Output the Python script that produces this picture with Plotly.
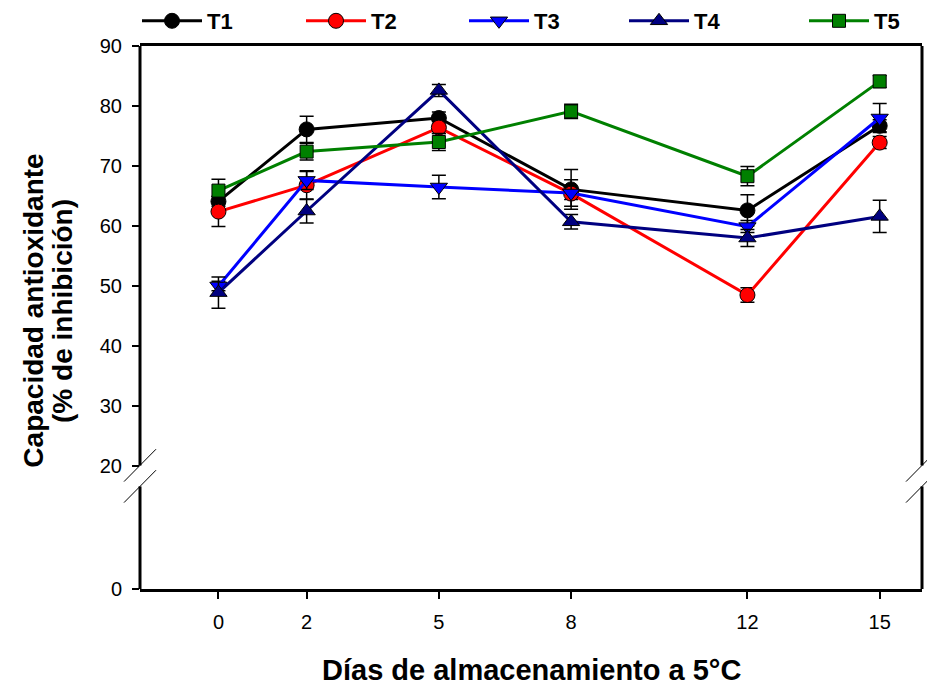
import plotly.graph_objects as go

days = [0, 2, 5, 8, 12, 15]
names = ["T1", "T2", "T3", "T4", "T5"]
t1 = [64.1, 76.1, 78.0, 66.1, 62.6, 76.7]
t2 = [62.4, 66.8, 76.4, 65.4, 48.5, 73.9]
t3 = [50.0, 67.6, 66.5, 65.5, 59.9, 78.0]
t4 = [48.9, 62.5, 82.6, 60.7, 58.0, 61.6]
t5 = [65.9, 72.4, 74.0, 79.1, 68.3, 84.1]
e1 = [0.8, 2.2, 1.0, 3.3, 2.6, 1.0]
e2 = [2.5, 2.4, 1.0, 1.0, 1.2, 1.0]
e3 = [0.8, 1.5, 1.95, 2.2, 1.0, 2.4]
e4 = [2.6, 2.0, 1.0, 1.2, 1.4, 2.7]
e5 = [1.9, 1.4, 1.4, 1.2, 1.6, 1.0]
y_ticks = [20, 30, 40, 50, 60, 70, 80, 90]

series = [t1, t2, t3, t4, t5]
errs = [e1, e2, e3, e4, e5]
colors = ["#000000", "#ff0000", "#0000ff", "#000080", "#008000"]
symbols = ["circle", "circle", "triangle-down", "triangle-up", "square"]
sizes = [15, 15, 15, 15, 13]
legend_ids = ["legend", "legend2", "legend3", "legend4", "legend5"]
legend_px = [143, 307, 470, 630, 810]

# physical axis: 20..90 linear; the "0" tick sits just below the break
zero_pos = -0.5

fig = go.Figure()
for name, ys, er, c, s, sz, lg in zip(names, series, errs, colors, symbols, sizes, legend_ids):
    fig.add_trace(go.Scatter(
        x=days, y=ys, name=name, mode="lines+markers", legend=lg,
        line=dict(color=c, width=3),
        marker=dict(symbol=s, size=sz, color=c, line=dict(color="black", width=1)),
        error_y=dict(type="data", array=er, visible=True, color="black", thickness=1.5, width=7),
    ))

legend_style = dict(orientation="h", xref="container", yref="container", y=1.0,
                    yanchor="top", xanchor="left", itemwidth=60,
                    font=dict(size=22, family="Liberation Sans, Arial", weight="bold"),
                    bgcolor="rgba(0,0,0,0)")
legends = {lg: dict(legend_style, x=(px - 6) / 927) for lg, px in zip(legend_ids, legend_px)}

fig.update_layout(
    width=927, height=687,
    margin=dict(l=140, r=5, t=46, b=98, autoexpand=False),
    paper_bgcolor="white", plot_bgcolor="white",
    font=dict(family="Liberation Sans, Arial", color="black"),
    showlegend=True,
    xaxis=dict(range=[-1.78, 15.96], tickvals=days, ticktext=[str(d) for d in days],
               ticks="outside", ticklen=7, tickwidth=1.5, tickcolor="black",
               ticklabelstandoff=6,
               showgrid=False, zeroline=False, showline=True, linewidth=3, linecolor="black",
               mirror=True, tickfont=dict(size=20)),
    yaxis=dict(range=[zero_pos, 90], tickvals=[zero_pos] + y_ticks,
               ticktext=["0"] + [str(v) for v in y_ticks],
               ticks="outside", ticklen=7, tickwidth=1.5, tickcolor="black",
               ticklabelstandoff=6,
               showgrid=False, zeroline=False, showline=False, tickfont=dict(size=20)),
    **legends,
)

# axis lines with break
for xp in [0, 1]:
    fig.add_shape(type="line", xref="paper", yref="y", x0=xp, x1=xp, y0=zero_pos, y1=16.6,
                  line=dict(color="black", width=3))
    fig.add_shape(type="line", xref="paper", yref="y", x0=xp, x1=xp, y0=20.1, y1=90,
                  line=dict(color="black", width=3))
    dx = 16 / 782
    for yc in [20.1, 16.6]:
        fig.add_shape(type="line", xref="paper", yref="y",
                      x0=xp - dx, x1=xp + dx, y0=yc - 2.7, y1=yc + 2.7,
                      line=dict(color="black", width=1))

fig.add_annotation(text="Capacidad antioxidante", xref="paper", yref="paper",
                   x=-0.136, y=0.512, textangle=-90, showarrow=False,
                   font=dict(size=28, weight="bold"), xanchor="center", yanchor="middle")
fig.add_annotation(text="(% de inhibición)", xref="paper", yref="paper",
                   x=-0.0985, y=0.512, textangle=-90, showarrow=False,
                   font=dict(size=28, weight="bold"), xanchor="center", yanchor="middle")
fig.add_annotation(text="Días de almacenamiento a 5°C", xref="paper", yref="paper",
                   x=0.5, y=-0.149, showarrow=False, font=dict(size=29, weight="bold"),
                   xanchor="center", yanchor="middle")

fig.write_html("out.html")
